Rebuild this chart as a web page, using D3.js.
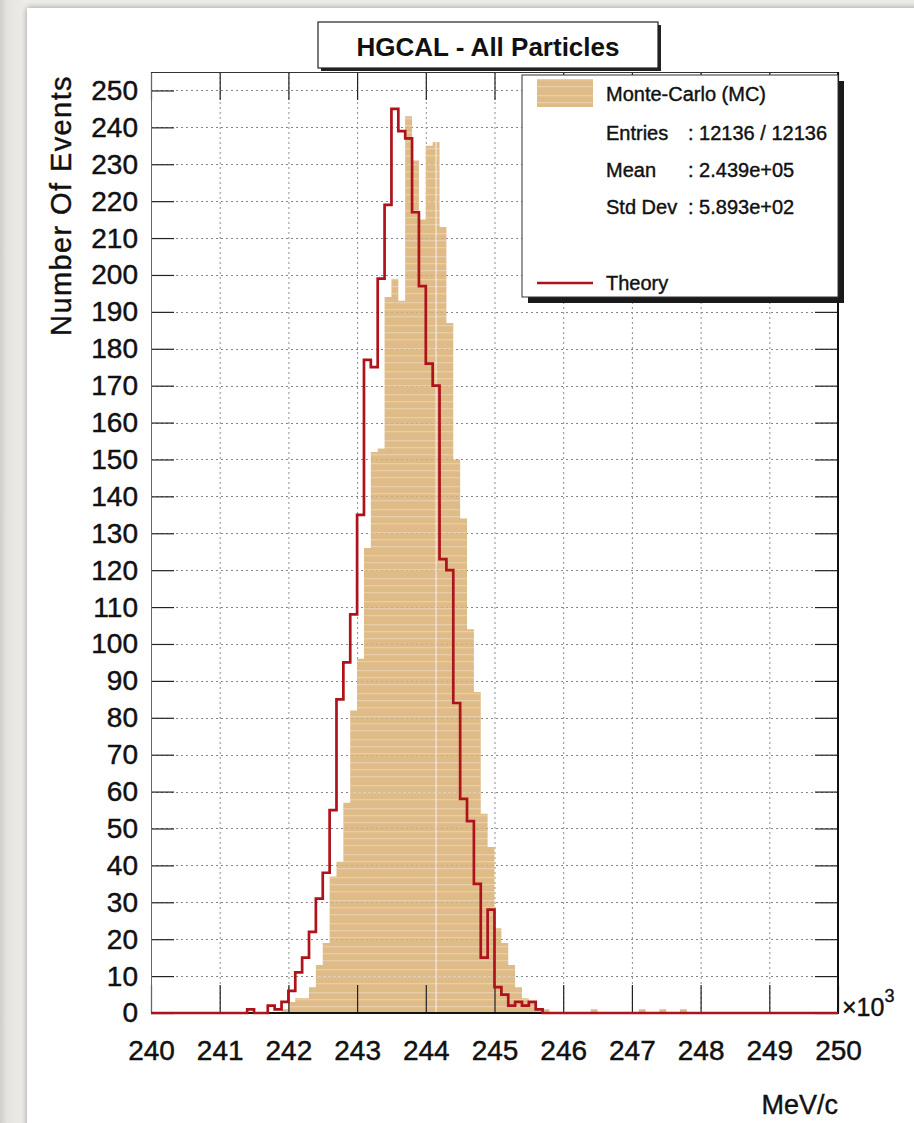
<!DOCTYPE html>
<html><head><meta charset="utf-8">
<script src="https://cdn.jsdelivr.net/npm/d3@7"></script>
<style>body{margin:0;background:#ebeae7}svg{display:block}</style>
</head><body><svg id="c" width="914" height="1123"></svg>
<script>
// ---------------- data ----------------
const binStart = 240, binWidth = 0.1, nBins = 100;
const mcFirstBin = 19;
const mcCounts = [1,3,4,4,7,13,19,37,41,57,82,96,126,152,153,194,199,193,243,231,215,235,236,213,187,150,134,104,87,54,45,23,19,13,7,4,3,1,1];
const mcSparseBins = [64,71,74,77];
const mcSparseCounts = [1,1,1,1];
const theoryFirstBin = 14;
const theoryCounts = [1,0,0,2,1,3,6,11,15,22,31,38,55,85,95,108,135,177,175,199,219,245,239,237,217,197,176,170,123,120,84,58,52,35,15,28,7,5,2,3,2,3,1];
const xTicks = [240,241,242,243,244,245,246,247,248,249,250];
const yTicks = [0,10,20,30,40,50,60,70,80,90,100,110,120,130,140,150,160,170,180,190,200,210,220,230,240,250];
const highlightX = [244.15];
const titleText = "HGCAL - All Particles";
const legendMC = "Monte-Carlo (MC)";
const statNames = ["Entries", "Mean", "Std Dev"];
const statValues = [": 12136 / 12136", ": 2.439e+05", ": 5.893e+02"];
const legendTheory = "Theory";

// ---------------- build bins ----------------
const mc = new Array(nBins).fill(0), th = new Array(nBins).fill(0);
mcCounts.forEach((v,i)=> mc[mcFirstBin+i] = v);
mcSparseBins.forEach((b,i)=> mc[b] = mcSparseCounts[i]);
theoryCounts.forEach((v,i)=> th[theoryFirstBin+i] = v);
const edges = d3.range(nBins+1).map(k => binStart + k*binWidth);
const mcPts = edges.map((e,k)=> [e, mc[Math.min(k,nBins-1)]]);
const thPts = edges.map((e,k)=> [e, th[Math.min(k,nBins-1)]]);

// ---------------- layout ----------------
const FONT = "'Liberation Sans', Arial, Helvetica, sans-serif";
const L = 151, R = 838, T = 72, B = 1013;
const x = d3.scaleLinear().domain([240,250]).range([L,R]);
const y = d3.scaleLinear().domain([0,255]).range([B,T]);
const TAN = "#dfbb87", RED = "#ae121b";

const svg = d3.select("#c");
const defs = svg.append("defs");
const sh = defs.append("filter").attr("id","sh").attr("x","-5%").attr("y","-5%").attr("width","110%").attr("height","110%");
sh.append("feGaussianBlur").attr("in","SourceAlpha").attr("stdDeviation",3);
const g1 = defs.append("linearGradient").attr("id","lg").attr("x1",0).attr("x2",1);
g1.append("stop").attr("offset",0).attr("stop-color","#cfcfcc");
g1.append("stop").attr("offset",0.25).attr("stop-color","#e4e3e0");
g1.append("stop").attr("offset",1).attr("stop-color","#efeeeb");
const pat = defs.append("pattern").attr("id","stripes").attr("patternUnits","userSpaceOnUse").attr("width",20).attr("height",23);
[3,10,17].forEach(v=> pat.append("rect").attr("x",0).attr("y",v).attr("width",20).attr("height",1.3).attr("fill","#fff").attr("opacity",0.28));

// background + panel
svg.append("rect").attr("width",914).attr("height",1123).attr("fill","#ecebe8");
svg.append("rect").attr("x",0).attr("y",0).attr("width",28).attr("height",1123).attr("fill","url(#lg)");
svg.append("rect").attr("x",27).attr("y",8).attr("width",900).attr("height",1130).attr("fill","#000").attr("opacity",0.35).attr("filter","url(#sh)");
svg.append("rect").attr("x",27).attr("y",8).attr("width",900).attr("height",1130).attr("fill","#fff");

// grid (under)
const grid = svg.append("g").attr("stroke","#444").attr("stroke-dasharray","2,3").attr("stroke-width",1).attr("opacity",0.6);
grid.selectAll(".gx").data(xTicks.slice(1,-1)).join("line")
  .attr("x1",d=>x(d)+0.5).attr("x2",d=>x(d)+0.5).attr("y1",T).attr("y2",B);
grid.selectAll(".gy").data(yTicks.slice(1)).join("line")
  .attr("x1",L).attr("x2",R).attr("y1",d=>Math.round(y(d))+0.5).attr("y2",d=>Math.round(y(d))+0.5);

// MC histogram
const area = d3.area().curve(d3.curveStepAfter).x(d=>x(d[0])).y0(y(0)).y1(d=>y(d[1]));
svg.append("path").datum(mcPts).attr("d",area).attr("fill",TAN);
svg.append("path").datum(mcPts).attr("d",area).attr("fill","url(#stripes)");
svg.selectAll(".hl").data(highlightX).join("line")
  .attr("x1",d=>x(d)).attr("x2",d=>x(d)).attr("y1",y(0))
  .attr("y2",d=>y(mc[Math.floor((d-binStart)/binWidth)]))
  .attr("stroke","#fff").attr("stroke-width",1.5).attr("opacity",0.55);

// grid (faint over fill)
const grid2 = svg.append("g").attr("stroke","#666").attr("stroke-dasharray","2,3").attr("stroke-width",1).attr("opacity",0.18);
grid2.selectAll(".gy").data(yTicks.slice(1)).join("line")
  .attr("x1",L).attr("x2",R).attr("y1",d=>Math.round(y(d))+0.5).attr("y2",d=>Math.round(y(d))+0.5);

// axes
const axL = svg.append("g").attr("transform",`translate(${L},0)`)
  .call(d3.axisLeft(y).tickValues(yTicks).tickSize(-23).tickPadding(13).tickFormat(d3.format("d")));
const axR = svg.append("g").attr("transform",`translate(${R},0)`)
  .call(d3.axisRight(y).tickValues(yTicks).tickSize(-23).tickFormat(""));
const axB = svg.append("g").attr("transform",`translate(0,${B})`)
  .call(d3.axisBottom(x).tickValues(xTicks).tickSize(-28).tickPadding(27).tickFormat(d3.format("d")));
const axT = svg.append("g").attr("transform",`translate(0,${T})`)
  .call(d3.axisTop(x).tickValues(xTicks).tickSize(-28).tickFormat(""));
[axL,axR,axB,axT].forEach(a=>{
  a.select(".domain").remove();
  a.selectAll(".tick line").attr("stroke","#222").attr("stroke-width",1.2);
  a.selectAll("text").attr("font-family",FONT).attr("font-size",28).attr("fill","#111")
    .attr("stroke","#111").attr("stroke-width",0.45);
});

// frame
svg.append("line").attr("x1",L+0.5).attr("x2",L+0.5).attr("y1",T).attr("y2",B).attr("stroke","#666").attr("stroke-width",1);
svg.append("line").attr("x1",L).attr("x2",R).attr("y1",T+0.5).attr("y2",T+0.5).attr("stroke","#333").attr("stroke-width",1);
svg.append("line").attr("x1",R).attr("x2",R).attr("y1",T).attr("y2",B+1).attr("stroke","#111").attr("stroke-width",2);
svg.append("line").attr("x1",L).attr("x2",R+1).attr("y1",B).attr("y2",B).attr("stroke","#111").attr("stroke-width",2);

// theory line
const line = d3.line().curve(d3.curveStepAfter).x(d=>x(d[0])).y(d=>y(d[1]));
svg.append("path").datum(thPts).attr("d",line).attr("fill","none").attr("stroke",RED).attr("stroke-width",2.7).attr("stroke-linejoin","miter");

// title box
const tb = {x:318, y:22, w:340, h:46};
svg.append("rect").attr("x",tb.x+3).attr("y",tb.y+3).attr("width",tb.w).attr("height",tb.h).attr("fill","#222");
svg.append("rect").attr("x",tb.x).attr("y",tb.y).attr("width",tb.w).attr("height",tb.h).attr("fill","#fff").attr("stroke","#222").attr("stroke-width",1.2);
svg.append("text").attr("x",tb.x+tb.w/2).attr("y",tb.y+34).attr("text-anchor","middle")
  .attr("font-family",FONT).attr("font-weight","bold").attr("font-size",26).attr("fill","#111").text(titleText);

// legend box
const lb = {x:522, y:75, w:316, h:222};
svg.append("rect").attr("x",lb.x+6).attr("y",lb.y+6).attr("width",lb.w).attr("height",lb.h).attr("fill","#1a1a1a");
svg.append("rect").attr("x",lb.x).attr("y",lb.y).attr("width",lb.w).attr("height",lb.h).attr("fill","#fff").attr("stroke","#333").attr("stroke-width",1);
svg.append("rect").attr("x",537).attr("y",79).attr("width",56).attr("height",28).attr("fill",TAN);
svg.append("rect").attr("x",537).attr("y",79).attr("width",56).attr("height",28).attr("fill","url(#stripes)");
svg.append("line").attr("x1",537).attr("x2",593).attr("y1",283).attr("y2",283).attr("stroke",RED).attr("stroke-width",2.7);
const lt = svg.append("g").attr("font-family",FONT).attr("font-size",20).attr("fill","#111")
  .attr("stroke","#111").attr("stroke-width",0.4);
lt.append("text").attr("x",606).attr("y",101).text(legendMC);
statNames.forEach((s,i)=>{
  lt.append("text").attr("x",606).attr("y",140+i*37).text(s);
  lt.append("text").attr("x",688).attr("y",140+i*37).text(statValues[i]);
});
lt.append("text").attr("x",606).attr("y",290).text(legendTheory);

// axis titles
const tstyle = s => s.attr("font-family",FONT).attr("fill","#111").attr("stroke","#111").attr("stroke-width",0.4);
svg.append("text").attr("transform","translate(71,75) rotate(-90)").attr("text-anchor","end")
  .attr("font-size",29).attr("letter-spacing",1.4).call(tstyle).text("Number Of Events");
svg.append("text").attr("x",R).attr("y",1114).attr("text-anchor","end")
  .attr("font-size",27).call(tstyle).text("MeV/c");
const ex = svg.append("text").attr("x",842).attr("y",1016).attr("font-size",25).call(tstyle);
ex.append("tspan").text("×10");
ex.append("tspan").attr("dy",-14).attr("font-size",18).text("3");
</script></body></html>
